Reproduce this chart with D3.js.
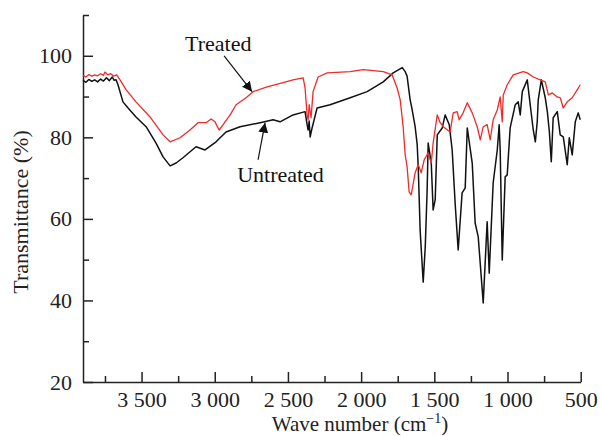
<!DOCTYPE html>
<html>
<head>
<meta charset="utf-8">
<script src="https://cdn.jsdelivr.net/npm/d3@7"></script>
<style>
  body { margin: 0; background: #fff; }
  text { font-family: "Liberation Serif", "Times New Roman", serif; }
</style>
</head>
<body>
<div id="container"></div>
<script>
// chart size
var w = 601;
var h = 436;

// tick values
var xMajorTicks = [3500, 3000, 2500, 2000, 1500, 1000, 500];
var xMinorTicks = [3750, 3250, 2750, 2250, 1750, 1250, 750];
var yMajorTicks = [20, 40, 60, 80, 100];
var yMinorTicks = [30, 50, 70, 90, 110];

// untreated spectrum: [wave number, transmittance]
var untreated = [
  [3900, 94.0], [3880, 93.5], [3860, 94.2], [3840, 93.7], [3820, 94.1], [3800, 93.6],
  [3780, 94.3], [3760, 93.8], [3740, 94.6], [3720, 93.9], [3700, 94.8], [3688, 94.0],
  [3674, 94.1], [3661, 92.9], [3627, 88.7], [3592, 87.2], [3538, 85.0], [3469, 82.6],
  [3401, 78.6], [3353, 75.2], [3305, 73.0], [3264, 73.7], [3217, 75.0], [3128, 77.7],
  [3066, 76.9], [2991, 78.9], [2923, 81.3], [2827, 82.6], [2690, 83.6], [2601, 84.3],
  [2554, 83.8], [2465, 85.5], [2383, 86.3], [2369, 83.1], [2362, 81.8], [2355, 84.0],
  [2348, 80.1], [2335, 82.3], [2301, 87.2], [2212, 88.0], [2075, 89.7], [1959, 91.2],
  [1849, 93.6], [1781, 95.8], [1719, 97.1], [1699, 96.1], [1686, 95.0], [1665, 89.2],
  [1651, 86.7], [1631, 82.6], [1617, 78.2], [1610, 72.8], [1603, 64.7], [1597, 57.3],
  [1576, 44.5], [1562, 53.1], [1549, 67.1], [1542, 78.6], [1521, 73.7], [1508, 62.2],
  [1494, 64.7], [1480, 80.6], [1446, 82.3], [1426, 85.5], [1398, 83.1], [1378, 76.9],
  [1357, 63.4], [1337, 52.4], [1310, 66.4], [1289, 67.6], [1275, 82.3], [1241, 73.7],
  [1221, 59.0], [1200, 55.6], [1166, 39.4], [1139, 59.3], [1125, 46.7], [1098, 68.8],
  [1070, 76.9], [1057, 83.1], [1050, 76.9], [1036, 49.9], [1016, 70.3], [1002, 70.8],
  [982, 82.3], [947, 88.0], [927, 88.7], [913, 85.5], [899, 91.2], [865, 94.1],
  [845, 88.0], [824, 81.8], [810, 78.9], [797, 83.8], [790, 89.2], [769, 94.1],
  [742, 89.7], [728, 86.3], [714, 81.3], [701, 74.0], [688, 84.8], [660, 86.3],
  [640, 80.6], [619, 80.1], [592, 73.3], [578, 79.9], [558, 75.7], [537, 83.8],
  [517, 86.0], [503, 84.3]
];

// treated spectrum: [wave number, transmittance]
var treated = [
  [3900, 95.2], [3880, 94.8], [3860, 95.4], [3840, 95.0], [3820, 95.3], [3800, 95.1],
  [3780, 95.6], [3760, 95.2], [3750, 96.0], [3730, 95.3], [3710, 95.6], [3690, 95.0],
  [3670, 95.3], [3647, 94.1], [3606, 91.7], [3538, 88.7], [3442, 85.0], [3353, 80.6],
  [3305, 78.9], [3237, 79.9], [3169, 81.8], [3114, 83.6], [3059, 83.6], [3025, 84.5],
  [2998, 83.8], [2970, 81.8], [2943, 83.1], [2895, 85.5], [2854, 88.0], [2786, 89.7],
  [2738, 91.2], [2642, 92.4], [2533, 93.4], [2465, 94.1], [2396, 94.6], [2383, 92.1],
  [2369, 85.5], [2362, 84.3], [2355, 88.0], [2342, 84.8], [2328, 91.2], [2294, 94.8],
  [2232, 95.8], [2075, 96.1], [1986, 96.6], [1849, 96.1], [1788, 95.3], [1754, 92.1],
  [1733, 89.2], [1713, 82.6], [1699, 75.7], [1686, 72.8], [1672, 66.6], [1658, 65.9],
  [1631, 71.3], [1610, 73.3], [1590, 71.3], [1569, 74.5], [1542, 76.2], [1521, 73.7],
  [1508, 78.6], [1480, 85.5], [1460, 83.6], [1439, 82.6], [1392, 81.3], [1371, 86.0],
  [1344, 86.3], [1330, 84.3], [1303, 86.0], [1275, 88.5], [1241, 86.0], [1207, 82.6],
  [1186, 79.4], [1166, 82.6], [1139, 83.1], [1118, 79.4], [1098, 84.3], [1070, 86.7],
  [1050, 89.9], [1036, 83.8], [1029, 90.4], [1002, 92.9], [961, 95.3], [893, 96.1],
  [865, 95.8], [824, 94.8], [776, 94.1], [742, 93.6], [721, 90.4], [694, 90.9],
  [660, 89.9], [640, 89.7], [619, 87.2], [592, 88.7], [558, 89.7], [523, 91.7],
  [503, 92.9]
];

var svg = d3.select("#container").append("svg")
    .attr("width", w)
    .attr("height", h);

var x = d3.scaleLinear().domain([3900, 500]).range([83, 580.7]);
var y = d3.scaleLinear().domain([20, 110]).range([382, 15]);

// "3 500" style numbers
var fmt = d3.formatLocale({ decimal: ".", thousands: " ", grouping: [3], currency: ["", ""] }).format(",");

var fontSize = 22;

// x axis
var gx = svg.append("g").attr("transform", "translate(0," + y(20) + ")");
gx.call(d3.axisBottom(x).tickValues(xMajorTicks).tickFormat(fmt)
    .tickSizeInner(-10).tickSizeOuter(0).tickPadding(9));
gx.append("g").call(d3.axisBottom(x).tickValues(xMinorTicks).tickFormat("")
    .tickSizeInner(-6).tickSizeOuter(0))
  .select(".domain").remove();

// y axis
var gy = svg.append("g").attr("transform", "translate(" + x(3900) + ",0)");
gy.call(d3.axisLeft(y).tickValues(yMajorTicks)
    .tickSizeInner(-10).tickSizeOuter(0).tickPadding(11));
gy.append("g").call(d3.axisLeft(y).tickValues(yMinorTicks).tickFormat("")
    .tickSizeInner(-6).tickSizeOuter(0))
  .select(".domain").remove();

svg.selectAll(".tick text")
    .attr("font-family", "Liberation Serif, Times New Roman, serif")
    .attr("font-size", fontSize)
    .attr("fill", "#222");
svg.selectAll(".domain, .tick line")
    .attr("stroke", "#222")
    .attr("stroke-width", 1.5);

// axis titles
svg.append("text")
    .attr("transform", "translate(28," + 212 + ") rotate(-90)")
    .attr("text-anchor", "middle")
    .attr("font-size", fontSize)
    .attr("fill", "#222")
    .text("Transmittance (%)");

var xt = svg.append("text")
    .attr("x", 360)
    .attr("y", 431)
    .attr("text-anchor", "middle")
    .attr("font-size", 21)
    .attr("fill", "#222");
xt.append("tspan").text("Wave number (cm");
xt.append("tspan").attr("font-size", 14).attr("dy", -8).text("\u22121");
xt.append("tspan").attr("dy", 8).text(")");

// spectra
var line = d3.line()
    .x(function(d) { return x(d[0]); })
    .y(function(d) { return y(d[1]); });

svg.append("path")
    .datum(untreated)
    .attr("d", line)
    .attr("fill", "none")
    .attr("stroke", "#111")
    .attr("stroke-width", 1.5)
    .attr("stroke-linejoin", "round");

svg.append("path")
    .datum(treated)
    .attr("d", line)
    .attr("fill", "none")
    .attr("stroke", "#f02a2a")
    .attr("stroke-width", 1.3)
    .attr("stroke-linejoin", "round");

// arrow annotations
svg.append("defs").append("marker")
    .attr("id", "head")
    .attr("viewBox", "0 0 10 10")
    .attr("refX", 10).attr("refY", 5)
    .attr("markerWidth", 10).attr("markerHeight", 10)
    .attr("markerUnits", "userSpaceOnUse")
    .attr("orient", "auto")
  .append("path")
    .attr("d", "M0,0 L10,5 L0,10 z")
    .attr("fill", "#111");

svg.append("line")
    .attr("x1", x(2936)).attr("y1", y(100))
    .attr("x2", x(2745)).attr("y2", y(91.2))
    .attr("stroke", "#111").attr("stroke-width", 1.2)
    .attr("marker-end", "url(#head)");

svg.append("line")
    .attr("x1", x(2704)).attr("y1", y(74.5))
    .attr("x2", x(2656)).attr("y2", y(83.6))
    .attr("stroke", "#111").attr("stroke-width", 1.2)
    .attr("marker-end", "url(#head)");

svg.append("text")
    .attr("x", x(3203)).attr("y", y(101.2))
    .attr("font-size", fontSize)
    .attr("fill", "#111")
    .text("Treated");

svg.append("text")
    .attr("x", x(2847)).attr("y", y(69.1))
    .attr("font-size", fontSize)
    .attr("fill", "#111")
    .text("Untreated");
</script>
</body>
</html>
